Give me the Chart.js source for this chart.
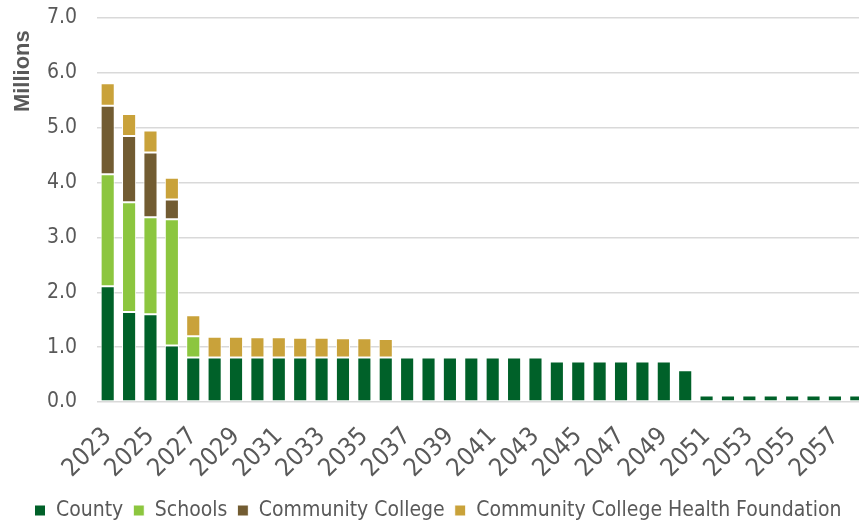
<!DOCTYPE html>
<html>
<head>
<meta charset="utf-8">
<script src="https://cdn.jsdelivr.net/npm/chart.js@4/dist/chart.umd.min.js"></script>
<style>
  html, body { margin: 0; padding: 0; background: #fff; overflow: hidden; }
  #wrap { width: 867px; height: 521px; }
</style>
</head>
<body>
<div id="wrap"><canvas id="chart"></canvas></div>
<script>
// --- Data (millions) ---
const years = [];
for (let y = 2023; y <= 2058; y++) years.push(String(y));

const county = [2.11, 1.64, 1.60, 1.03, 0.81, 0.81, 0.81, 0.81, 0.81, 0.81, 0.81, 0.81, 0.81, 0.81,
  0.81, 0.81, 0.81, 0.81, 0.81, 0.81, 0.81, 0.74, 0.74, 0.74, 0.74, 0.74, 0.74, 0.58,
  0.12, 0.12, 0.12, 0.12, 0.12, 0.12, 0.12, 0.12];
const schools = [2.04, 2.00, 1.77, 2.30, 0.39];
const communityCollege = [1.25, 1.21, 1.18, 0.36];
const healthFoundation = [0.41, 0.40, 0.40, 0.40, 0.38, 0.38, 0.38, 0.37, 0.37, 0.36, 0.36, 0.35, 0.35, 0.34];

const yTicks = [0, 1, 2, 3, 4, 5, 6, 7];

const FONT = "'Liberation Sans Narrow', 'DejaVu Sans Condensed', sans-serif";
const GREY = '#595959';

const ctx = document.getElementById('chart').getContext('2d');
new Chart(ctx, {
  type: 'bar',
  data: {
    labels: years,
    datasets: [
      { label: 'County', data: county, backgroundColor: '#006129' },
      { label: 'Schools', data: schools, backgroundColor: '#8cc63f' },
      { label: 'Community College', data: communityCollege, backgroundColor: '#725c32' },
      { label: 'Community College Health Foundation', data: healthFoundation, backgroundColor: '#c9a23a' }
    ].map(d => Object.assign(d, {
      borderColor: '#ffffff',
      borderWidth: 1,
      borderSkipped: false,
      barPercentage: 0.66,
      categoryPercentage: 1.0
    }))
  },
  options: {
    responsive: true,
    maintainAspectRatio: false,
    animation: false,
    layout: { padding: { top: 0, left: 9, right: 0, bottom: -10 } },
    scales: {
      x: {
        stacked: true,
        grid: { display: false },
        border: { display: false },
        // fixed label band height, and no extra room for the rotated last label
        afterFit: axis => { axis.height = 88; axis.paddingLeft = 0; axis.paddingRight = 0; },
        ticks: {
          color: GREY,
          font: { family: FONT, size: 25 },
          autoSkip: false,
          maxRotation: 45,
          minRotation: 45,
          padding: 12,
          callback: function (v, i) { return i % 2 === 0 ? this.getLabelForValue(v) : ''; }
        }
      },
      y: {
        stacked: true,
        min: 0,
        max: 7,
        afterBuildTicks: axis => { axis.ticks = yTicks.map(v => ({ value: v })); },
        afterFit: axis => { axis.width = 88; axis.paddingTop = 18; axis.paddingBottom = 0; },
        grid: { color: '#d9d9d9', lineWidth: 1.5, drawTicks: false },
        border: { display: false },
        ticks: {
          color: GREY,
          font: { family: FONT, size: 21 },
          padding: 20,
          callback: v => v.toFixed(1)
        },
        title: {
          display: true,
          text: 'Millions  ',
          align: 'end',
          color: GREY,
          font: { family: "'Liberation Sans', Arial, sans-serif", size: 22, weight: 'bold' },
          padding: { top: 1, bottom: 0 }
        }
      }
    },
    plugins: {
      legend: {
        position: 'bottom',
        labels: {
          color: GREY,
          font: { family: FONT, size: 21 },
          boxWidth: 11,
          boxHeight: 11,
          padding: 10
        }
      },
      tooltip: { enabled: false }
    }
  }
});
</script>
</body>
</html>
